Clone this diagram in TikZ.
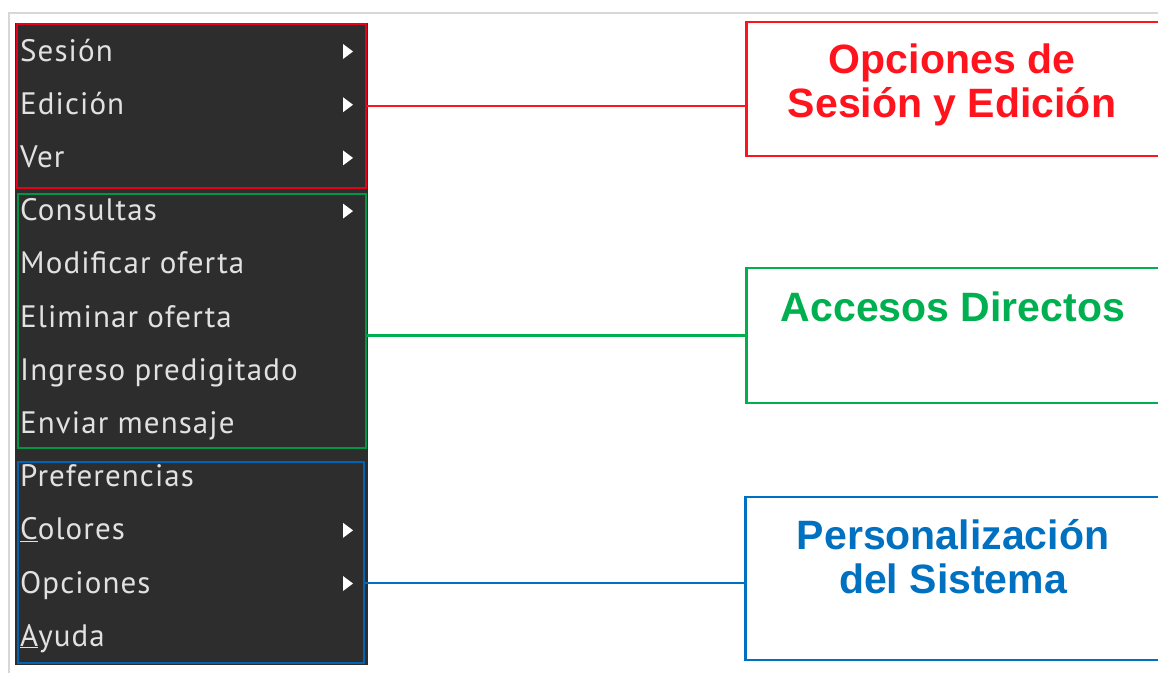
\documentclass[tikz,border=0pt]{standalone}
\usepackage{fontspec}
\setmainfont{Liberation Sans}
\newfontfamily\menufont[LetterSpace=3.5]{PT Sans}
\usetikzlibrary{calc}
\definecolor{menubg}{RGB}{45,45,45}
\definecolor{menutext}{RGB}{225,225,225}
\definecolor{framegray}{RGB}{215,215,215}
\definecolor{mredc}{RGB}{230,0,25}
\definecolor{mgreenc}{RGB}{0,150,70}
\definecolor{mbluec}{RGB}{0,100,180}
\definecolor{lredc}{RGB}{255,20,30}
\definecolor{lgreenc}{RGB}{0,176,80}
\definecolor{lbluec}{RGB}{0,112,192}
\tikzset{
  menubox/.style={draw, line width=2.2pt, inner sep=0pt, fill=none},
  item/.style={anchor=base west, inner sep=0pt, text=menutext, font=\menufont\fontsize{31}{31}\selectfont},
  lbox/.style={draw, line width=2.5pt, inner sep=0pt, anchor=west, fill=white},
  ltext/.style={align=center, inner sep=0pt, font=\bfseries\fontsize{41}{44}\selectfont},
  conn/.style={line width=2.2pt}
}
\begin{document}
\begin{tikzpicture}[x=1pt,y=-1pt]
\useasboundingbox (0,0) rectangle (1158,672);
\clip (0,0) rectangle (1158,672);
\fill[white] (0,0) rectangle (1158,672);
\draw[framegray, line width=1.5pt] (9,680) -- (9,13) -- (1170,13);
% menu background
\fill[menubg] (15,23) rectangle (368,665);
% group boxes
\node[menubox, draw=mredc, minimum width=349, minimum height=164] (mred) at (191.5,106) {};
\node[menubox, draw=mgreenc, minimum width=348, minimum height=254] (mgreen) at (192,321) {};
\node[menubox, draw=mbluec, minimum width=346, minimum height=201] (mblue) at (191,562.5) {};
% menu items
\node[item] (i1) at (20,61) {Sesión};
\node[item] (i2) at (20,114.2) {Edición};
\node[item] (i3) at (20,167.4) {Ver};
\node[item] (i4) at (20,220.6) {Consultas};
\node[item] (i5) at (20,273.8) {Modificar oferta};
\node[item] (i6) at (20,327) {Eliminar oferta};
\node[item] (i7) at (20,380.2) {Ingreso predigitado};
\node[item] (i8) at (20,433.4) {Enviar mensaje};
\node[item] (i9) at (20,486.6) {Preferencias};
\node[item] (i10) at (20,539.8) {\underline{C}olores};
\node[item] (i11) at (20,593) {Opciones};
\node[item] (i12) at (20,646.2) {\underline{A}yuda};
% submenu arrows
\foreach \n in {i1,i2,i3,i4,i10,i11}
  \fill[white] (\n.base west -| 343,0) ++(0,-17) -- ++(10,7.5) -- ++(-10,7.5) -- cycle;
% label boxes
\node[lbox, draw=lredc, minimum width=430, minimum height=134] (lred) at (745,89) {};
\node[lbox, draw=lgreenc, minimum width=430, minimum height=135] (lgreen) at (745,335.5) {};
\node[lbox, draw=lbluec, minimum width=430, minimum height=163] (lblue) at (744,578.5) {};
% label texts
\node[ltext, text=lredc] (tred) at (952,85) {Opciones de\\Sesión y Edición};
\node[ltext, text=lgreenc] (tgreen) at (953,307) {Accesos Directos};
\node[ltext, text=lbluec] (tblue) at (953,556.5) {Personalización\\del Sistema};
% connectors
\draw[conn, draw=lredc] (mred.east) -- (mred.east -| lred.west);
\draw[conn, draw=lgreenc] (lgreen.west -| mgreen.east) -- (lgreen.west);
\coordinate (cb) at ([yshift=-4.5pt]lblue.west);
\draw[conn, draw=lbluec] (cb -| mblue.east) -- (cb);
\end{tikzpicture}
\end{document}
